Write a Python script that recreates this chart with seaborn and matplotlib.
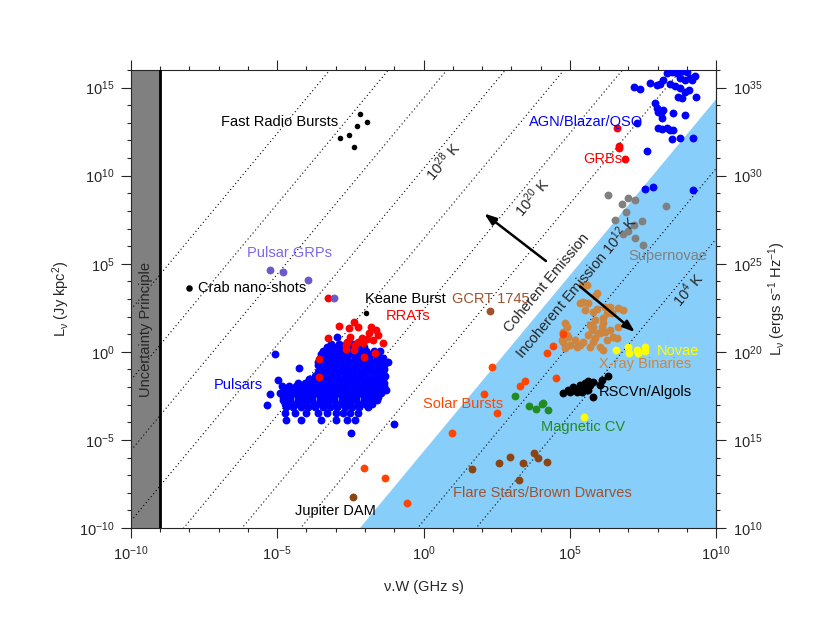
import numpy as np
import matplotlib
matplotlib.use('Agg')
import matplotlib.pyplot as plt
import matplotlib.ticker as mticker
import seaborn as sns

sns.set_style('ticks')
plt.rcParams['font.family'] = ['Liberation Sans', 'DejaVu Sans']
plt.rcParams['mathtext.default'] = 'regular'

# all values are log10(nu*W [GHz s]) and log10(L_nu [Jy kpc^2])
frb_lx = [-2.17, -1.93, -2.27, -2.85, -2.55, -2.38]
frb_ly = [13.52, 13.07, 12.84, 12.16, 12.33, 11.65]

crab_lx = [-8.02]
crab_ly = [3.64]

grp_lx = [-5.25, -4.80, -3.95, -3.06]
grp_ly = [4.66, 4.55, 4.09, 3.07]

keane_lx = [-1.97]
keane_ly = [2.22]

rrat_lx = [-2.89, -2.55, -2.38, -2.24, -1.79, -1.62, -1.86, -1.56, -2.10, -1.93,
           -2.24, -2.51, -2.62, -2.65, -2.34, -2.07, -1.73, -1.38, -3.26, -2.65,
           -2.38, -2.03, -1.66, -3.57, -3.57, -3.26]
rrat_ly = [1.48, 1.36, 1.70, 1.42, 1.42, 1.25, 1.08, 0.97, 0.80, 0.74,
           0.57, 0.85, 0.57, 0.40, 0.40, 0.51, 0.68, 0.51, 0.80, 0.17,
           0.11, -0.28, -0.06, -0.40, -1.42, 3.07]

# pulsar cloud, row by row (log L : list of log nuW)
pulsar_rows = {
    0.45: [-3.15, -2.9, -2.65, -2.4, -2.2],
    0.25: [-3.3, -3.05, -2.8, -2.55, -2.3, -2.05],
    0.05: [-3.45, -3.2, -2.95, -2.7, -2.45, -2.2, -1.95, -1.7, -1.5],
    -0.15: [-3.5, -3.3, -3.05, -2.8, -2.55, -2.3, -2.05, -1.8, -1.55],
    -0.35: [-3.55, -3.35, -3.1, -2.85, -2.6, -2.35, -2.1, -1.85, -1.6, -1.4],
    -0.55: [-3.6, -3.4, -3.2, -2.95, -2.7, -2.45, -2.2, -1.95, -1.7, -1.45],
    -0.75: [-3.6, -3.35, -3.1, -2.85, -2.6, -2.35, -2.1, -1.85, -1.6, -1.35],
    -0.95: [-3.55, -3.3, -3.05, -2.8, -2.55, -2.3, -2.05, -1.8, -1.55, -1.35],
    -1.15: [-3.6, -3.4, -3.15, -2.9, -2.65, -2.4, -2.15, -1.9, -1.65, -1.4],
    -1.35: [-3.7, -3.45, -3.2, -2.95, -2.7, -2.45, -2.2, -1.95, -1.7, -1.45, -1.3],
    -1.55: [-3.9, -3.65, -3.4, -3.15, -2.9, -2.65, -2.4, -2.15, -1.9, -1.65, -1.4],
    -1.75: [-4.3, -4.05, -3.8, -3.55, -3.3, -3.05, -2.8, -2.55, -2.3, -2.05, -1.8,
            -1.55, -1.35],
    -1.95: [-4.85, -4.6, -4.35, -4.1, -3.85, -3.6, -3.35, -3.1, -2.85, -2.6, -2.35,
            -2.1, -1.85, -1.6, -1.35],
    -2.15: [-4.75, -4.5, -4.25, -4.0, -3.75, -3.5, -3.25, -3.0, -2.75, -2.5, -2.25,
            -2.0, -1.75, -1.5],
    -2.35: [-4.9, -4.65, -4.4, -4.15, -3.9, -3.65, -3.4, -3.15, -2.9, -2.65, -2.4,
            -2.15, -1.9, -1.65, -1.45],
    -2.55: [-4.8, -4.55, -4.3, -4.05, -3.8, -3.55, -3.3, -3.05, -2.8, -2.55, -2.3,
            -2.05, -1.8, -1.55],
    -2.75: [-4.8, -4.55, -4.3, -4.05, -3.8, -3.55, -3.3, -3.05, -2.8, -2.55, -2.3,
            -2.05, -1.8, -1.6],
    -2.95: [-4.75, -4.5, -4.25, -4.0, -3.75, -3.5, -3.25, -3.0, -2.75, -2.5, -2.25,
            -2.0, -1.75],
    -3.15: [-4.7, -4.45, -4.2, -3.95, -3.7, -3.45, -3.2, -2.95, -2.7, -2.45, -2.2, -1.9],
    -3.5: [-4.75, -4.4, -4.0, -3.6, -3.3, -3.0, -2.75, -2.5, -2.25],
    -3.85: [-4.7, -4.2, -3.5, -3.0, -2.6, -2.35],
}
pulsar_out_lx = [-5.07, -4.26, -4.97, -5.25, -5.35, -1.01, -2.48, -2.96, -1.21, -1.28]
pulsar_out_ly = [-0.11, -0.91, -1.59, -2.39, -3.01, -4.09, -4.60, 0.85, -0.57, -2.16]

agn_lx = [7.20, 7.40, 7.74, 7.98, 8.19, 8.32, 8.50, 8.67, 8.87, 9.01, 9.18, 8.77,
          8.94, 9.11, 9.28, 8.77, 8.94, 9.08, 9.32, 8.84, 8.70, 8.43, 8.09, 8.60,
          7.91, 7.98, 8.19, 8.02, 8.12, 8.53, 8.94, 8.15, 8.02, 8.15, 8.32, 8.43,
          8.53, 8.50, 8.77, 9.21, 7.64, 7.30, 7.57, 7.85, 9.21]
agn_ly = [15.06, 14.94, 15.28, 15.17, 15.45, 15.85, 15.91, 15.85, 15.97, 15.91, 15.45, 15.57,
          15.45, 15.57, 15.68, 15.00, 14.77, 14.89, 14.49, 14.43, 14.49, 15.23, 15.23, 15.11,
          14.15, 13.86, 13.75, 13.64, 13.58, 13.58, 13.47, 13.30, 12.73, 12.67, 12.73, 12.61,
          12.61, 12.10, 12.16, 12.16, 11.42, 13.01, 9.26, 9.38, 9.20]

grb_lx = [6.62, 6.68, 6.68, 6.89]
grb_ly = [12.73, 11.70, 11.59, 10.97]

sn_lx = [6.31, 6.79, 6.99, 7.23, 6.92, 6.55, 7.47, 7.20, 6.99, 6.82, 7.23, 7.50, 8.29]
sn_ly = [8.92, 8.41, 8.75, 8.64, 7.95, 7.50, 7.44, 7.22, 6.88, 6.70, 6.48, 6.08, 8.30]

xrb_lx = [5.42, 5.59, 5.93, 5.86, 5.45, 5.62, 5.35, 5.52, 5.79, 5.93, 6.21, 6.38,
          6.65, 6.82, 6.44, 6.27, 6.14, 5.86, 5.69, 6.14, 5.79, 6.10, 6.65, 4.84,
          4.91, 4.77, 4.91, 4.94, 4.74, 4.77, 5.18, 5.01, 4.84, 5.25, 5.35, 5.69,
          6.03, 6.14, 5.79, 5.45, 5.97, 6.21, 6.38, 6.48, 6.62, 6.27, 5.86, 5.62,
          5.76, 6.03]
xrb_ly = [3.81, 3.81, 3.35, 3.18, 2.84, 2.78, 2.78, 2.39, 2.27, 2.44, 2.56, 2.56,
          2.50, 2.39, 2.22, 2.22, 1.93, 1.82, 1.53, 1.65, 1.42, 1.42, 1.42, 1.65,
          1.42, 1.14, 0.97, 0.85, 0.68, 0.57, 0.68, 0.40, 0.23, 0.28, 0.40, 0.28,
          0.28, 0.11, 0.57, 0.57, 1.08, 1.14, 1.25, 0.85, 0.80, 0.68, 0.80, 0.97,
          1.25, 1.08]

novae_lx = [6.58, 6.99, 7.03, 7.30, 7.33, 7.57, 7.57, 5.49]
novae_ly = [0.11, 0.28, -0.06, 0.11, -0.06, 0.28, 0.06, -3.69]

rscvn_lx = [4.77, 4.94, 5.11, 5.25, 5.35, 5.52, 5.62, 5.45, 5.69, 5.79, 5.62, 5.42,
            5.79, 6.10, 6.03, 6.31, 5.01, 5.18]
rscvn_ly = [-2.33, -2.16, -1.99, -2.27, -1.88, -1.76, -1.65, -2.05, -1.88, -1.70, -2.16, -2.27,
            -2.56, -1.59, -1.88, -1.36, -2.27, -2.10]

mcv_lx = [3.13, 3.61, 3.85, 4.05, 4.09, 4.26]
mcv_ly = [-2.50, -3.07, -3.24, -2.95, -2.90, -3.30]

solar_lx = [-2.03, -1.32, -0.56, 0.97, 2.34, 2.07, 2.51, 3.30, 3.47, 4.53, 4.22, 4.43, 4.77]
solar_ly = [-6.59, -7.16, -8.58, -4.60, -0.85, -2.39, -3.47, -1.93, -1.65, -1.48, -0.06, 0.34, 1.02]

flare_lx = [1.66, 2.58, 2.96, 3.40, 3.26, 3.78, 3.91, 4.22]
flare_ly = [-6.65, -6.31, -5.97, -6.31, -7.27, -5.74, -6.02, -6.25]

jupiter_lx = [-2.41]
jupiter_ly = [-8.24]

gcrt_lx = [2.27]
gcrt_ly = [2.33]

# brightness temperature lines, log10(T/K); L = T (nu W)^2 * 10**tb_offset
tb_lines = [4, 8, 16, 20, 24, 28, 32, 36, 40]
tb_limit = 12
tb_offset = -17.6

fig = plt.figure(figsize=(8.3, 6.42), dpi=100)
ax = fig.add_axes([0.1578, 0.1776, 0.7049, 0.7134])
ax.set_xscale('log')
ax.set_yscale('log')
ax.set_xlim(1e-10, 1e10)
ax.set_ylim(1e-10, 1e16)

# uncertainty principle band
ax.axvspan(1e-10, 1e-9, color='#808080', lw=0, zorder=0)
ax.axvline(1e-9, color='black', lw=2.0, zorder=3)
ax.text(10**-9.5, 10**1.25, 'Uncertainty Principle', rotation=90, ha='center', va='center',
        fontsize=10.5, zorder=6)

# incoherent region
xs = np.logspace(-10, 10, 400)
lim = 10.0**(tb_limit + tb_offset) * xs**2
ax.fill_between(xs, 1e-10, lim, where=lim >= 1e-10, color='#87CEFA', lw=0, zorder=0)

for t in tb_lines:
    ax.plot(xs, 10.0**(t + tb_offset) * xs**2, color='black', lw=0.8,
            linestyle=(0, (1, 2.5)), zorder=1)


def pts(lx, ly, color, s=32, z=3):
    sns.scatterplot(x=10.0**np.array(lx), y=10.0**np.array(ly), color=color, s=s,
                    linewidth=0, ax=ax, zorder=z, legend=False)


pul_lx, pul_ly = [], []
for row_ly, row in pulsar_rows.items():
    pul_lx += row
    pul_ly += [row_ly] * len(row)
pts(pul_lx + pulsar_out_lx, pul_ly + pulsar_out_ly, '#0000FF')
pts(rrat_lx, rrat_ly, '#FF0000', z=4)
pts(grp_lx, grp_ly, '#6A5ACD', z=4)
pts(frb_lx, frb_ly, 'black', s=16)
pts(crab_lx, crab_ly, 'black', s=22)
pts(keane_lx, keane_ly, 'black', s=16)
pts(agn_lx, agn_ly, '#0000FF')
pts(grb_lx, grb_ly, '#FF0000')
pts(sn_lx, sn_ly, '#808080')
pts(xrb_lx, xrb_ly, '#CD853F')
pts(novae_lx, novae_ly, '#FFFF00')
pts(rscvn_lx, rscvn_ly, 'black')
pts(mcv_lx, mcv_ly, '#228B22')
pts(solar_lx, solar_ly, '#FF4500')
pts(flare_lx, flare_ly, '#8B4513')
pts(jupiter_lx, jupiter_ly, '#8B4513')
pts(gcrt_lx, gcrt_ly, '#A0522D')

labels = [
    ('Fast Radio Bursts', -2.92, 13.07, 'right', 'black'),
    ('Crab nano-shots', -7.71, 3.64, 'left', 'black'),
    ('Pulsar GRPs', -3.13, 5.63, 'right', '#7B68EE'),
    ('Keane Burst', -2.0, 3.01, 'left', 'black'),
    ('RRATs', -1.28, 2.05, 'left', '#FF0000'),
    ('Pulsars', -5.49, -1.88, 'right', '#0000FF'),
    ('GCRT 1745', 0.97, 3.01, 'left', '#A0522D'),
    ('AGN/Blazar/QSO', 3.61, 13.07, 'left', '#0000FF'),
    ('GRBs', 5.45, 10.97, 'left', '#FF0000'),
    ('Supernovae', 6.99, 5.45, 'left', '#808080'),
    ('Novae', 7.98, 0.06, 'left', '#FFFF00'),
    ('X-ray Binaries', 6.0, -0.68, 'left', '#CD853F'),
    ('RSCVn/Algols', 6.0, -2.27, 'left', 'black'),
    ('Magnetic CV', 4.02, -4.26, 'left', '#228B22'),
    ('Solar Bursts', -0.02, -2.95, 'left', '#FF4500'),
    ('Flare Stars/Brown Dwarves', 1.0, -8.01, 'left', '#A0522D'),
    ('Jupiter DAM', -4.39, -9.03, 'left', 'black'),
]
for txt, lx, ly, ha, c in labels:
    ax.text(10**lx, 10**ly, txt, ha=ha, va='center', color=c, fontsize=10.5, zorder=6)

rot_labels = [
    ('$10^{28}$ K', 0.67, 10.8),
    ('$10^{20}$ K', 3.71, 8.75),
    ('$10^{4}$ K', 9.04, 3.52),
    ('Coherent Emission', 4.22, 3.92),
    ('Incoherent Emission $10^{12}$ K', 5.21, 3.69),
]
for txt, lx, ly in rot_labels:
    ax.text(10**lx, 10**ly, txt, rotation=50, rotation_mode='anchor', ha='center',
            va='center', fontsize=10.5, zorder=6)

arrow = dict(arrowstyle='-|>,head_length=0.7,head_width=0.25', lw=1.8, color='black')
ax.annotate('', xy=(10**2.0, 10**7.95), xytext=(10**4.26, 10**5.06), arrowprops=arrow, zorder=6)
ax.annotate('', xy=(10**7.30, 10**1.02), xytext=(10**5.28, 10**3.81), arrowprops=arrow, zorder=6)

major_x = 10.0**np.arange(-10, 11, 5)
major_y = 10.0**np.arange(-10, 16, 5)
fmt = mticker.FuncFormatter(lambda v, _: '$10^{%d}$' % int(round(np.log10(v))))
ax.xaxis.set_major_locator(mticker.FixedLocator(major_x))
ax.xaxis.set_minor_locator(mticker.FixedLocator(10.0**np.arange(-10, 11)))
ax.yaxis.set_major_locator(mticker.FixedLocator(major_y))
ax.yaxis.set_minor_locator(mticker.FixedLocator(10.0**np.arange(-10, 17)))
ax.xaxis.set_major_formatter(fmt)
ax.yaxis.set_major_formatter(fmt)
ax.xaxis.set_minor_formatter(mticker.NullFormatter())
ax.yaxis.set_minor_formatter(mticker.NullFormatter())
ax.tick_params(which='major', direction='out', length=7, width=0.8, labelsize=10.5, pad=5)
ax.tick_params(which='minor', direction='out', length=3, width=0.8)
ax.tick_params(axis='x', which='both', top=True)

sec = ax.secondary_yaxis('right', functions=(lambda y: y * 1e20, lambda y: y / 1e20))
sec.yaxis.set_major_locator(mticker.FixedLocator(10.0**np.arange(10, 36, 5)))
sec.yaxis.set_minor_locator(mticker.FixedLocator(10.0**np.arange(10, 37)))
sec.yaxis.set_major_formatter(fmt)
sec.yaxis.set_minor_formatter(mticker.NullFormatter())
sec.tick_params(which='major', direction='out', length=7, width=0.8, labelsize=10.5, pad=5)
sec.tick_params(which='minor', direction='out', length=3, width=0.8)
sec.set_ylabel('L$_{ν}$ (ergs s$^{-1}$ Hz$^{-1}$)', fontsize=10.5, labelpad=3)

for sp in ax.spines.values():
    sp.set_linewidth(0.8)
sec.spines['right'].set_linewidth(0.8)

ax.set_xlabel('ν.W (GHz s)', fontsize=10.5, labelpad=12)
ax.set_ylabel('L$_{ν}$ (Jy kpc$^{2}$)', fontsize=10.5, labelpad=5)

fig.savefig('out.png', dpi=100)
